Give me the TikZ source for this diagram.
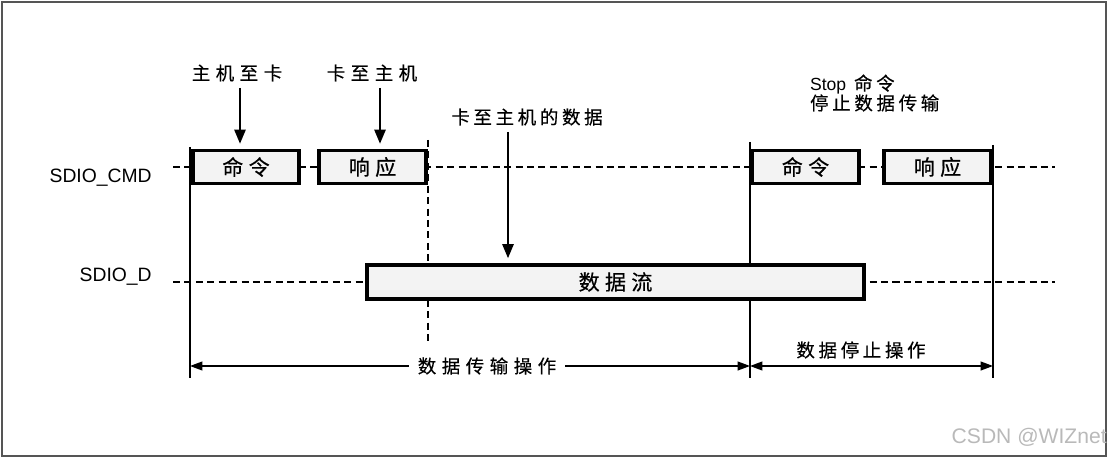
\documentclass[tikz,border=0pt]{standalone}
\usepackage{fontspec}
\setmainfont{Liberation Sans}
\newfontfamily\cjk[LetterSpace=20, FakeBold=0.4]{Noto Sans CJK SC}
\usetikzlibrary{arrows.meta}
\definecolor{boxgray}{HTML}{F3F3F3}
\definecolor{framegray}{HTML}{555555}

\begin{document}
\begin{tikzpicture}[x=0.02cm, y=-0.02cm,
    thinline/.style={line width=0.85pt},
    sigline/.style={line width=0.85pt, dash pattern=on 4pt off 2.5pt},
    sigbox/.style={draw, line width=1.8pt, fill=boxgray, inner sep=0pt,
        minimum height=0.66cm, font=\cjk\fontsize{12}{14}\selectfont},
    lbl/.style={font=\cjk\fontsize{10.5}{12}\selectfont, inner sep=1pt},
    wide/.style={font=\cjk\addfontfeature{LetterSpace=30}\fontsize{10.5}{12}\selectfont},
    signame/.style={anchor=east, inner sep=0pt, font=\fontsize{11}{13}\selectfont},
    dn/.style={line width=0.85pt, -{Triangle[length=8pt,width=6.5pt]}, shorten >=3pt},
    dim/.style={line width=0.85pt, {Triangle[length=7pt,width=5pt]}-{Triangle[length=7pt,width=5pt]}}]
    \useasboundingbox (0,0) rectangle (1108,459);
    % outer frame
    \draw[framegray, line width=1.2pt] (2,2) rectangle (1106,456);

    % signal names
    \node[signame] (cmdname) at (152,178) {SDIO\_CMD};
    \node[signame] (dname) at (152,277) {SDIO\_D};

    % signal lines
    \coordinate (cmdL) at (173,167);
    \coordinate (cmdR) at (1055,167);
    \coordinate (dL) at (173,282);
    \coordinate (dR) at (1055,282);
    \draw[sigline] (cmdL) -- (cmdR);
    \draw[sigline] (dL) -- (dR);

    % phase boundaries
    \coordinate (t0) at (190,147);
    \coordinate (t1) at (428,140);
    \coordinate (t2) at (750,142);
    \coordinate (t3) at (993,145);
    \draw[thinline] (t0) -- (190,378);
    \draw[sigline] (t1) -- (428,345);
    \draw[thinline] (t2) -- (750,378);
    \draw[thinline] (t3) -- (993,378);

    % boxes on the lines
    \node[sigbox, minimum width=2.12cm] (cmdA) at (246,167) {命\hspace{3pt}令};
    \node[sigbox, minimum width=2.14cm] (rspA) at (372.5,167) {响\hspace{3pt}应};
    \node[sigbox, minimum width=2.14cm] (cmdB) at (805.5,167) {命\hspace{3pt}令};
    \node[sigbox, minimum width=2.14cm] (rspB) at (937.5,167) {响\hspace{3pt}应};
    \node[sigbox, minimum width=9.94cm, minimum height=0.68cm] (data) at (615.5,282) {数\hspace{3pt}据\hspace{3pt}流};

    % labels with arrows
    \node[lbl, wide] (h2c) at (237,73) {主机至卡};
    \node[lbl, wide] (c2h) at (372,73) {卡至主机};
    \node[lbl] (c2hd) at (527,117) {卡至主机的数据};
    \node[lbl, anchor=west, align=left, font=\cjk\fontsize{10.5}{11.3}\selectfont] (stop) at (808,93)
        {{\fontspec{Liberation Sans}\fontsize{10}{11}\selectfont Stop} 命令\\停止数据传输};
    \coordinate (a1) at (240,88);
    \coordinate (a2) at (380,88);
    \coordinate (a3) at (508,132);
    \draw[dn] (a1) -- (a1 |- cmdA.north);
    \draw[dn] (a2) -- (a2 |- rspA.north);
    \draw[dn] (a3) -- (a3 |- data.north);

    % operation spans
    \coordinate (s0) at (190,366);
    \coordinate (s1) at (750,366);
    \coordinate (s2) at (993,366);
    \draw[dim] (s0) -- (s1);
    \draw[dim] (s1) -- (s2);
    \node[lbl, wide, fill=white, inner xsep=5pt] (xfer) at (487,366) {数据传输操作};
    \node[lbl] (halt) at (861,350) {数据停止操作};

    % watermark
    \node[anchor=east, text=gray!55, font=\fontsize{12}{14}\selectfont, inner sep=0pt] (mark) at (1107,437) {CSDN @WIZnet};
\end{tikzpicture}
\end{document}
